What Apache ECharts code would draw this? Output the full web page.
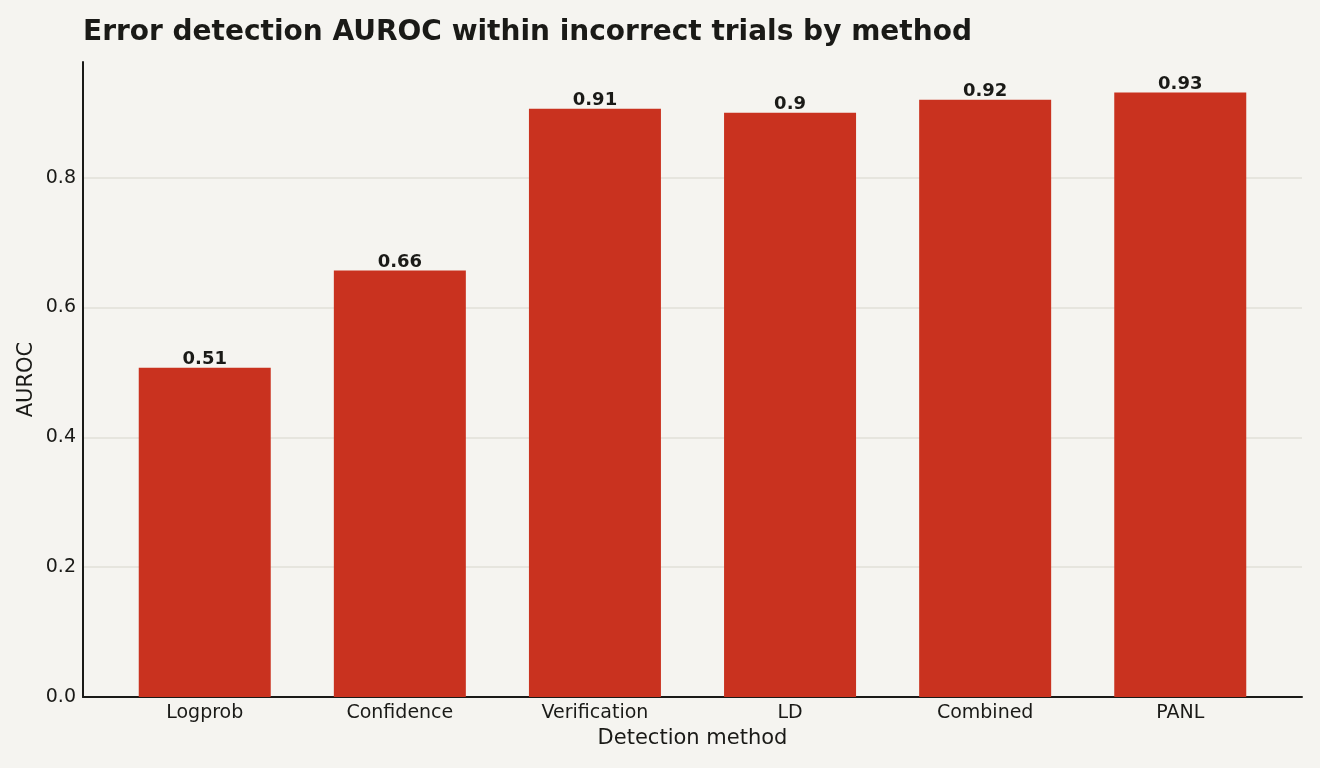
<!DOCTYPE html>
<html lang="en">
<head>
    <meta charset="UTF-8">
    <title>AUROC by method</title>
    <script src="https://cdn.jsdelivr.net/npm/echarts@6/dist/echarts.min.js"></script>
    <style>
        html, body { margin: 0; padding: 0; background: #f5f4f0; }
        #main { width: 1320px; height: 768px; }
    </style>
</head>
<body>
    <div id="main"></div>
    <script type="text/javascript">
        // data
        var methods = ['Logprob', 'Confidence', 'Verification', 'LD', 'Combined', 'PANL'];
        var auroc = [0.507, 0.657, 0.906, 0.900, 0.920, 0.931];
        var yTickStep = 0.2;

        var font = 'DejaVu Sans';
        var ink = '#1a1a17';

        var myChart = echarts.init(document.getElementById('main'));

        var option = {
            backgroundColor: '#f5f4f0',
            animation: false,
            title: {
                text: 'Error detection AUROC within incorrect trials by method',
                left: 78,
                top: 14,
                textStyle: { fontFamily: font, fontSize: 28, fontWeight: 'bold', color: ink }
            },
            grid: { left: 83, right: 18, top: 62, bottom: 71 },
            xAxis: {
                type: 'value',
                min: -0.624,
                max: 5.624,
                name: 'Detection method',
                nameLocation: 'middle',
                nameGap: 31,
                nameTextStyle: { fontFamily: font, fontSize: 21, color: ink },
                axisLine: { show: true, onZero: false, lineStyle: { color: ink, width: 2 } },
                axisTick: { show: false },
                splitLine: { show: false },
                axisLabel: {
                    customValues: methods.map(function (m, i) { return i; }),
                    formatter: function (v) { return methods[Math.round(v)]; },
                    fontFamily: font, fontSize: 19, color: ink, margin: 7
                }
            },
            yAxis: {
                type: 'value',
                min: 0,
                max: 0.978,
                interval: yTickStep,
                name: 'AUROC',
                nameLocation: 'middle',
                nameGap: 46,
                nameMoveOverlap: false,
                nameTextStyle: { fontFamily: font, fontSize: 21, color: ink },
                axisLine: { show: true, onZero: false, lineStyle: { color: ink, width: 2 } },
                axisTick: { show: false },
                splitLine: {
                    show: true, showMinLine: false, showMaxLine: false,
                    lineStyle: { color: '#e1e0d8', width: 1.5 }
                },
                axisLabel: {
                    showMaxLabel: false,
                    formatter: function (v) { return v.toFixed(1); },
                    fontFamily: font, fontSize: 19, color: ink, margin: 7
                }
            },
            series: [{
                type: 'bar',
                barWidth: 132,
                data: auroc.map(function (v, i) { return [i, v]; }),
                itemStyle: { color: '#c9321f' },
                label: {
                    show: true,
                    position: 'top',
                    distance: -1,
                    formatter: function (p) { return String(Math.round(p.value[1] * 100) / 100); },
                    fontFamily: font, fontSize: 18, fontWeight: 'bold', color: ink
                }
            }]
        };

        myChart.setOption(option);
    </script>
</body>
</html>
